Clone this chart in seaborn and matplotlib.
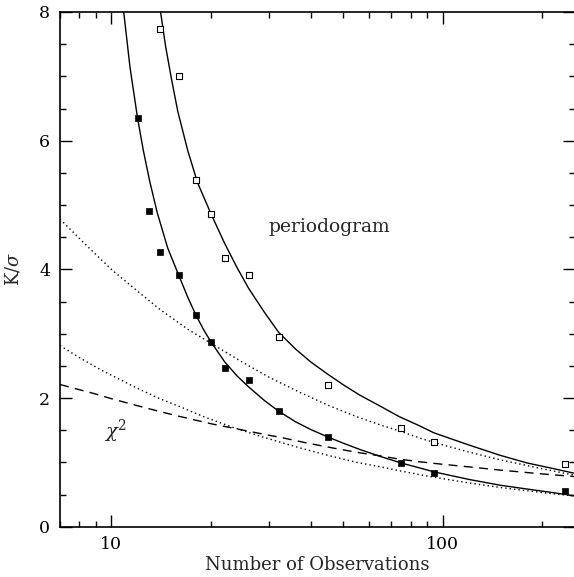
import numpy as np
import pandas as pd
import matplotlib
matplotlib.use("Agg")
import matplotlib.pyplot as plt
import seaborn as sns
from matplotlib.ticker import FixedLocator, FixedFormatter, MultipleLocator, NullFormatter

# ---- data ----
filled_n = [12, 13, 14, 16, 18, 20, 22, 26, 32, 45, 75, 94, 234]
filled_k = [6.35, 4.90, 4.27, 3.91, 3.29, 2.87, 2.46, 2.28, 1.80, 1.40, 0.99, 0.83, 0.55]

open_n = [14, 16, 18, 20, 22, 26, 32, 45, 75, 94, 234]
open_k = [7.74, 7.00, 5.39, 4.86, 4.17, 3.91, 2.95, 2.21, 1.54, 1.31, 0.98]

solid_lo_n = [10.9, 11.38, 12, 12.5, 13.07, 13.76, 14.8, 16, 17, 18, 19, 20, 22, 24, 26, 29, 32, 36, 40,
              45, 50, 56.5, 65, 75, 85, 94, 120, 149, 180, 215, 250]
solid_lo_k = [8.0, 7.15, 6.35, 5.84, 5.36, 4.88, 4.33, 3.90, 3.57, 3.29, 3.06, 2.87, 2.56, 2.34, 2.17, 1.96,
              1.795, 1.63, 1.51, 1.395, 1.30, 1.197, 1.09, 0.99, 0.915, 0.853, 0.735, 0.645, 0.585, 0.53, 0.48]

solid_hi_n = [14.08, 14.6, 15.2, 15.88, 17, 18.2, 20, 22, 24, 26, 29, 32, 36, 40, 45, 50, 56, 65, 74, 85,
              94, 120, 149, 180, 215, 250]
solid_hi_k = [8.0, 7.45, 6.95, 6.45, 5.85, 5.35, 4.86, 4.40, 4.02, 3.70, 3.33, 3.02, 2.76, 2.56, 2.37, 2.21,
              2.05, 1.87, 1.71, 1.57, 1.46, 1.27, 1.11, 0.99, 0.905, 0.83]

dot_hi_n = [7, 8.5, 10, 12, 14, 17, 20, 25, 30, 37, 45, 55, 65, 74, 85, 94, 120, 149, 200, 250]
dot_hi_k = [4.78, 4.35, 4.0, 3.66, 3.38, 3.07, 2.85, 2.55, 2.32, 2.09, 1.89, 1.71, 1.58, 1.49, 1.38, 1.31,
            1.16, 1.04, 0.90, 0.80]

dot_lo_n = [7, 8, 9.28, 10.5, 12, 14, 16.2, 19, 23.4, 28, 33, 38, 45, 55, 65, 74, 85, 94, 120, 149, 200, 250]
dot_lo_k = [2.815, 2.63, 2.44, 2.30, 2.15, 1.99, 1.86, 1.71, 1.54, 1.41, 1.30, 1.21, 1.11, 1.00, 0.93, 0.87,
            0.81, 0.77, 0.68, 0.61, 0.53, 0.477]

dash_n = [7, 8, 8.86, 10, 12, 14, 16.2, 20, 23.4, 28, 33, 39, 47, 56, 65, 74, 85, 100, 120, 149, 200, 250]
dash_k = [2.21, 2.13, 2.07, 1.99, 1.88, 1.79, 1.71, 1.60, 1.53, 1.45, 1.38, 1.30, 1.22, 1.15, 1.10, 1.05,
          1.01, 0.97, 0.93, 0.88, 0.82, 0.78]

x_major = [10, 100]
x_major_labels = ["10", "100"]
x_minor = [7, 8, 9, 20, 30, 40, 50, 60, 70, 80, 90, 200]
y_major = [0, 2, 4, 6, 8]

# ---- style ----
sns.set_theme(style="ticks")
plt.rcParams["font.family"] = ["DejaVu Serif", "DejaVu Sans"]
plt.rcParams["mathtext.fontset"] = "dejavuserif"

fig = plt.figure(figsize=(5.74, 5.77), dpi=100)
ax = fig.add_axes([60 / 574, 1 - 526.7 / 577, (574.5 - 60) / 574, (526.7 - 12) / 577])

curve_lw = 1.0
sns.lineplot(x=solid_lo_n, y=solid_lo_k, ax=ax, color="black", lw=curve_lw, sort=False, estimator=None)
sns.lineplot(x=solid_hi_n, y=solid_hi_k, ax=ax, color="black", lw=curve_lw, sort=False, estimator=None)
sns.lineplot(x=dot_hi_n, y=dot_hi_k, ax=ax, color="black", lw=1.0, linestyle=(0, (1, 2.2)), sort=False, estimator=None)
sns.lineplot(x=dot_lo_n, y=dot_lo_k, ax=ax, color="black", lw=1.0, linestyle=(0, (1, 2.2)), sort=False, estimator=None)
sns.lineplot(x=dash_n, y=dash_k, ax=ax, color="black", lw=1.0, linestyle=(0, (6.5, 4.5)), sort=False, estimator=None)

sns.scatterplot(x=filled_n, y=filled_k, ax=ax, marker="s", s=16, color="black", edgecolor="black", linewidth=0.5, zorder=5)
sns.scatterplot(x=open_n, y=open_k, ax=ax, marker="s", s=16, facecolor="white", edgecolor="black", linewidth=0.8, zorder=5)

ax.set_xscale("log")
ax.set_xlim(7, 250)
ax.set_ylim(0, 8)

ax.xaxis.set_major_locator(FixedLocator(x_major))
ax.xaxis.set_major_formatter(FixedFormatter(x_major_labels))
ax.xaxis.set_minor_locator(FixedLocator(x_minor))
ax.xaxis.set_minor_formatter(NullFormatter())
ax.yaxis.set_major_locator(FixedLocator(y_major))
ax.yaxis.set_minor_locator(MultipleLocator(0.5))

ax.tick_params(which="both", direction="in", top=True, right=True, colors="black", labelsize=12.5)
ax.tick_params(which="major", length=8.6, width=1.0, pad=7)
ax.tick_params(which="minor", length=4.3, width=1.0)
for sp in ax.spines.values():
    sp.set_visible(True)
    sp.set_linewidth(1.2)
    sp.set_color("black")

ax.set_xlabel("Number of Observations", fontsize=13, labelpad=2)
ax.set_ylabel(r"K/$\sigma$", fontsize=13, labelpad=12)

ax.text(29.8, 4.66, "periodogram", fontsize=13.5, ha="left", va="center")
ax.text(10.3, 1.48, r"$\chi^2$", fontsize=14, ha="center", va="center")

fig.savefig("out.png", dpi=100)
